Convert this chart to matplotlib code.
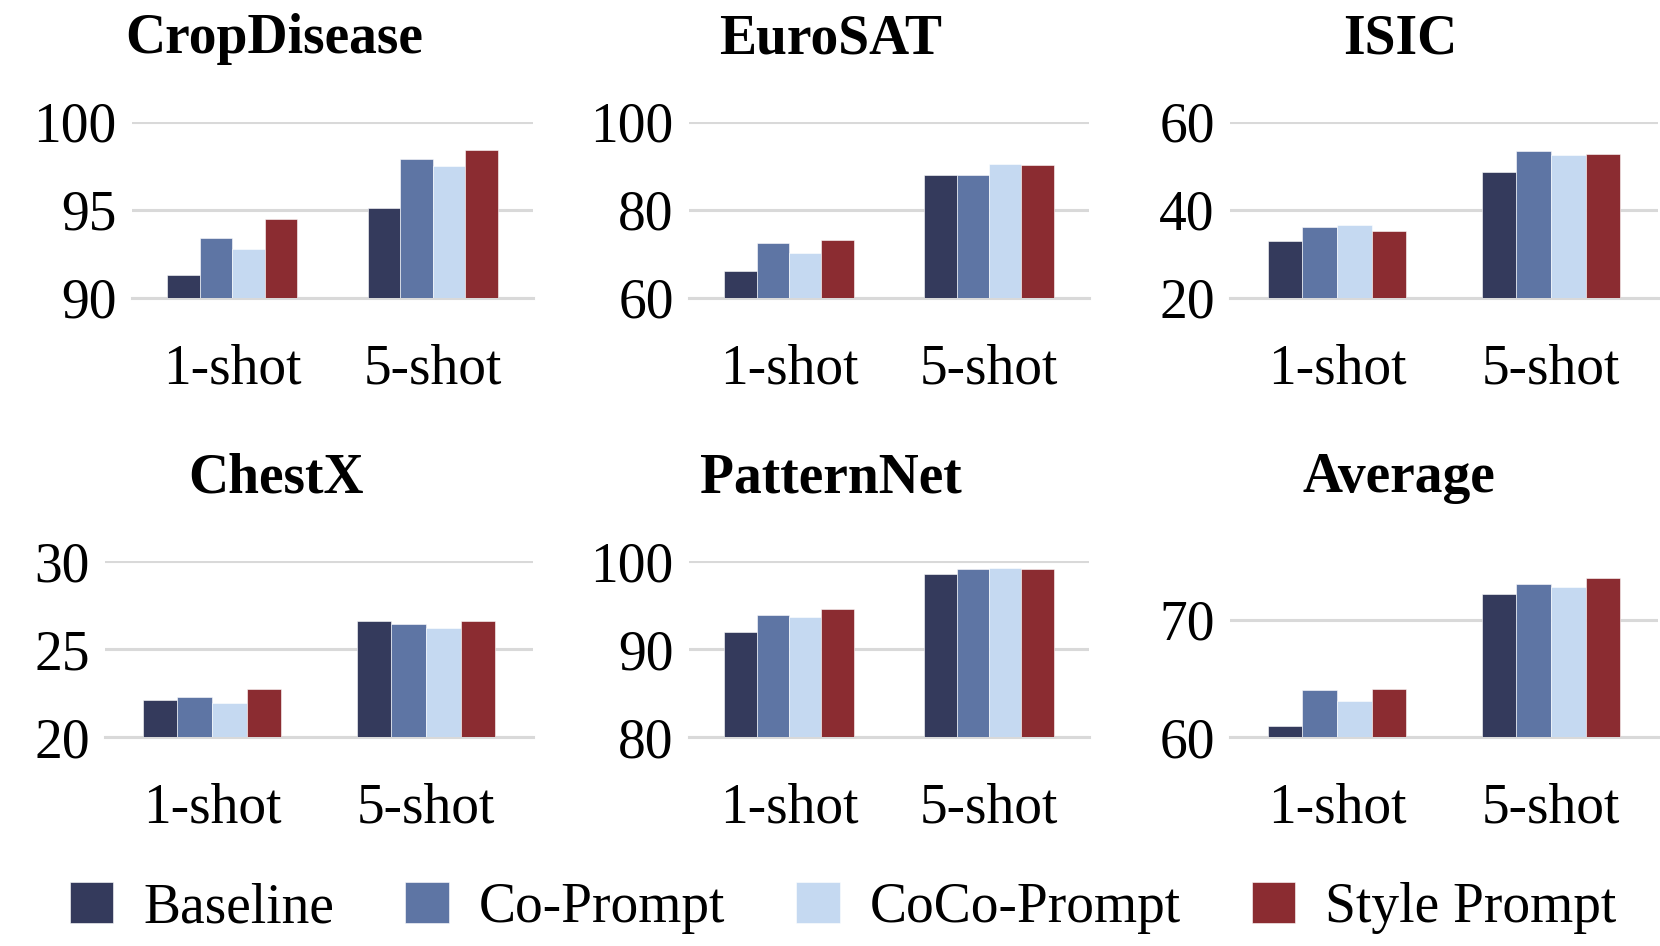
import matplotlib
matplotlib.use('Agg')
import matplotlib.pyplot as plt
import numpy as np

plt.rcParams['font.family'] = ['Liberation Serif', 'DejaVu Serif']

# data
shots = ['1-shot', '5-shot']
methods = ['Baseline', 'Co-Prompt', 'CoCo-Prompt', 'Style Prompt']
colors = ['#343A5C', '#5E75A4', '#C5D9F1', '#8B2C31']

crop_disease = [[91.3, 95.1], [93.4, 97.9], [92.8, 97.5], [94.5, 98.4]]
eurosat = [[66.1, 88.0], [72.5, 88.0], [70.3, 90.4], [73.1, 90.3]]
isic = [[33.0, 48.6], [36.1, 53.4], [36.5, 52.6], [35.2, 52.8]]
chestx = [[22.1, 26.6], [22.3, 26.4], [21.95, 26.2], [22.75, 26.6]]
patternnet = [[91.9, 98.5], [93.9, 99.06], [93.6, 99.2], [94.6, 99.1]]
average = [[60.9, 72.2], [64.0, 73.0], [63.1, 72.8], [64.1, 73.55]]

panels = [
    ('CropDisease', crop_disease, [90, 95, 100], (90, 100)),
    ('EuroSAT', eurosat, [60, 80, 100], (60, 100)),
    ('ISIC', isic, [20, 40, 60], (20, 60)),
    ('ChestX', chestx, [20, 25, 30], (20, 30)),
    ('PatternNet', patternnet, [80, 90, 100], (80, 100)),
    ('Average', average, [60, 70], (60, 75)),
]

W, H = 1660, 946
# axes boxes in pixels: left, right, top, bottom
boxes = [
    (132, 533, 122, 298), (689, 1089, 122, 298), (1230, 1658, 122, 298),
    (105, 533, 561, 737), (689, 1089, 561, 737), (1230, 1658, 561, 737),
]
title_pos = [(274, 53), (831, 53), (1400, 53), (276, 492), (831, 492), (1399, 492)]

fig = plt.figure(figsize=(W / 100, H / 100), dpi=100)

grid_col = '#D9D9D9'
w = 0.162
x = np.arange(len(shots))

handles = []
for k, (name, vals, ticks, ylim) in enumerate(panels):
    l, r, t, b = boxes[k]
    ax = fig.add_axes([l / W, 1 - b / H, (r - l) / W, (b - t) / H])
    for i, m in enumerate(methods):
        bars = ax.bar(x + (i - 1.5) * w, vals[i], w, color=colors[i],
                      edgecolor='white', linewidth=0.4, zorder=3, label=m)
        if k == 0:
            handles.append(bars)
    ax.set_xlim(-0.5, 1.5)
    ax.set_ylim(*ylim)
    ax.set_yticks(ticks)
    ax.set_xticks(x)
    ax.set_xticklabels(shots)
    ax.tick_params(axis='both', length=0, labelsize=40)
    ax.tick_params(axis='x', pad=33)
    ax.tick_params(axis='y', pad=11)
    ax.yaxis.grid(True, color=grid_col, linewidth=2.2, zorder=0)
    ax.set_axisbelow(True)
    for s in ['top', 'left', 'right']:
        ax.spines[s].set_visible(False)
    ax.spines['bottom'].set_color(grid_col)
    ax.spines['bottom'].set_linewidth(2.2)
    tx, ty = title_pos[k]
    fig.text(tx / W, 1 - ty / H, name, fontsize=40, fontweight='bold',
             ha='center', va='baseline')

fig.legend(handles, methods, loc='center', bbox_to_anchor=(0.508, 1 - 908 / H),
           ncol=4, frameon=False, fontsize=40, handlelength=0.78,
           handleheight=0.76, handletextpad=0.54, columnspacing=1.28,
           borderpad=0, borderaxespad=0)

fig.savefig('out.png', dpi=100)
